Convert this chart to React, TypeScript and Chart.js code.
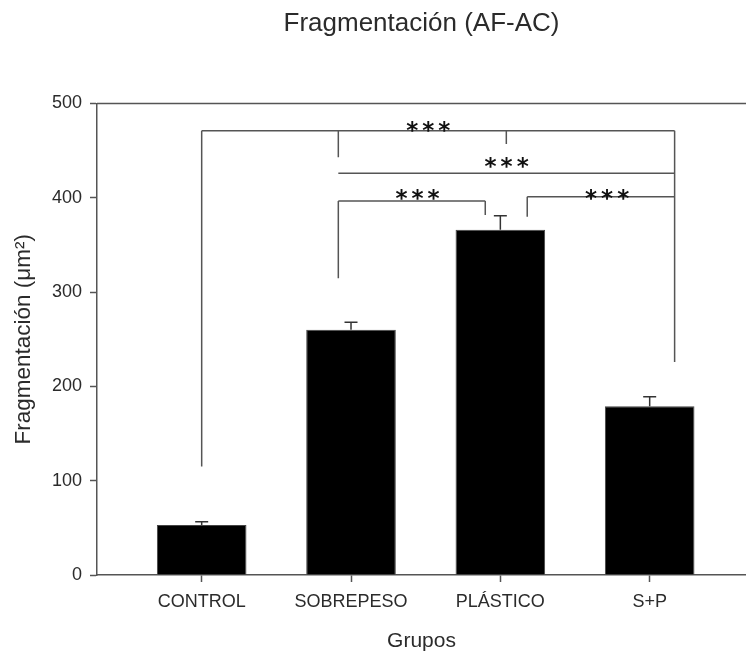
import React, { useEffect, useRef } from 'react';
import { Chart, registerables } from 'chart.js';

Chart.register(...registerables);

// ---- data ----
const categories = ['CONTROL', 'SOBREPESO', 'PLÁSTICO', 'S+P'];
const categoryPositions = [1, 2, 3, 4];
const means = [53, 260, 366, 179];
const sems = [3.5, 8, 15, 10];
const yTickValues = [0, 100, 200, 300, 400, 500];

// significance brackets (data units)
const bracketLevels = [471, 426, 396.6, 401];
const bracketStarts = [1, 1.915, 1.915, 3.18];
const bracketEnds = [4.167, 4.167, 2.899, 4.167];
const bracketDrops = [
  [[1, 115], [1.915, 443], [3.04, 457], [4.167, 226]],
  [],
  [[1.915, 314.6], [2.899, 381.7]],
  [[3.18, 380]],
];
const bracketLabels = ['***', '***', '***', '***'];
const bracketLabelX = [2.517, 3.042, 2.445, 3.715];
const bracketLabelY = [478, 440, 406, 406];

const chartTitle = 'Fragmentación (AF-AC)';
const xTitle = 'Grupos';
const yTitle = 'Fragmentación (μm²)';

const FONT = '"Liberation Sans", Arial, sans-serif';
const TEXT = '#2b2b2b';
const LINE = '#555555';

const overlayPlugin = {
  id: 'overlay',
  afterDatasetsDraw(chart: any) {
    const { ctx, chartArea, scales } = chart;
    const xs = scales.x;
    const ys = scales.y;
    ctx.save();
    // top frame line
    ctx.strokeStyle = LINE;
    ctx.lineWidth = 1.5;
    ctx.beginPath();
    ctx.moveTo(chartArea.left, chartArea.top);
    ctx.lineTo(chartArea.right, chartArea.top);
    ctx.stroke();

    // error bars
    ctx.strokeStyle = '#333333';
    ctx.lineWidth = 1.5;
    for (let i = 0; i < means.length; i++) {
      const px = xs.getPixelForValue(categoryPositions[i]);
      const y0 = ys.getPixelForValue(means[i]);
      const y1 = ys.getPixelForValue(means[i] + sems[i]);
      ctx.beginPath();
      ctx.moveTo(px, y0);
      ctx.lineTo(px, y1);
      ctx.moveTo(px - 6.5, y1);
      ctx.lineTo(px + 6.5, y1);
      ctx.stroke();
    }

    // brackets
    ctx.strokeStyle = LINE;
    ctx.lineWidth = 1.5;
    for (let b = 0; b < bracketLevels.length; b++) {
      const yl = ys.getPixelForValue(bracketLevels[b]);
      ctx.beginPath();
      ctx.moveTo(xs.getPixelForValue(bracketStarts[b]), yl);
      ctx.lineTo(xs.getPixelForValue(bracketEnds[b]), yl);
      for (const [dx, dy] of bracketDrops[b]) {
        const px = xs.getPixelForValue(dx);
        ctx.moveTo(px, yl);
        ctx.lineTo(px, ys.getPixelForValue(dy));
      }
      ctx.stroke();
    }

    // labels
    ctx.fillStyle = '#111111';
    ctx.font = 'bold 23px "DejaVu Sans", sans-serif';
    ctx.textAlign = 'center';
    ctx.textBaseline = 'alphabetic';
    try { (ctx as any).letterSpacing = '4px'; } catch (e) {}
    for (let b = 0; b < bracketLabels.length; b++) {
      const px = xs.getPixelForValue(bracketLabelX[b]) + 2;
      const py = ys.getPixelForValue(bracketLabelY[b]) + 13.5;
      ctx.fillText(bracketLabels[b], px, py);
    }
    ctx.restore();
  },
};

export default function App() {
  const ref = useRef<HTMLCanvasElement | null>(null);
  useEffect(() => {
    if (!ref.current) return;
    const chart = new Chart(ref.current, {
      type: 'bar',
      data: {
        datasets: [
          {
            label: 'Fragmentación',
            data: categoryPositions.map((x, i) => ({ x, y: means[i] })),
            backgroundColor: '#000000',
            borderColor: '#444444',
            borderWidth: 1,
            barPercentage: 0.6,
            categoryPercentage: 1,
          },
        ],
      },
      options: {
        responsive: false,
        animation: false,
        devicePixelRatio: 1,
        layout: { padding: 0 },
        plugins: {
          legend: { display: false },
          tooltip: { enabled: false },
          title: {
            display: true,
            text: chartTitle,
            fullSize: false,
            color: TEXT,
            font: { family: FONT, size: 26, weight: 'normal' },
            padding: { top: 8, bottom: 64.3 },
          },
        },
        scales: {
          x: {
            type: 'linear',
            offset: false,
            min: 0.299,
            max: 4.645,
            afterFit: (s: any) => { s.height = 79; },
            afterBuildTicks: (s: any) => { s.ticks = categoryPositions.map((v) => ({ value: v })); },
            grid: {
              display: true,
              offset: false,
              drawOnChartArea: false,
              drawTicks: true,
              tickLength: 7,
              tickColor: LINE,
              tickWidth: 1.5,
            },
            border: { display: true, color: LINE, width: 1.5 },
            ticks: {
              autoSkip: false,
              maxRotation: 0,
              padding: 9,
              color: TEXT,
              font: { family: FONT, size: 18 },
              callback: (v: any) => {
                const i = categoryPositions.indexOf(Number(v));
                return i >= 0 ? categories[i] : '';
              },
            },
            title: {
              display: true,
              text: xTitle,
              color: TEXT,
              font: { family: FONT, size: 21 },
              padding: { top: 0, bottom: 0 },
            },
          },
          y: {
            type: 'linear',
            min: 0,
            max: 500,
            afterFit: (s: any) => { s.width = 97; },
            afterBuildTicks: (s: any) => { s.ticks = yTickValues.map((v) => ({ value: v })); },
            grid: {
              display: true,
              drawOnChartArea: false,
              drawTicks: true,
              tickLength: 7,
              tickColor: LINE,
              tickWidth: 1.5,
            },
            border: { display: true, color: LINE, width: 1.5 },
            ticks: {
              padding: 8,
              color: TEXT,
              font: { family: FONT, size: 18 },
            },
            title: {
              display: true,
              text: yTitle,
              color: TEXT,
              font: { family: FONT, size: 22.5 },
              padding: { top: 10, bottom: 0 },
            },
          },
        },
      },
      plugins: [overlayPlugin],
    });
    return () => chart.destroy();
  }, []);

  return (
    <div style={{ position: 'fixed', left: 0, top: 0, width: 746, height: 654, background: '#ffffff' }}>
      <canvas ref={ref} width={746} height={654} style={{ width: 746, height: 654, display: 'block' }} />
    </div>
  );
}
